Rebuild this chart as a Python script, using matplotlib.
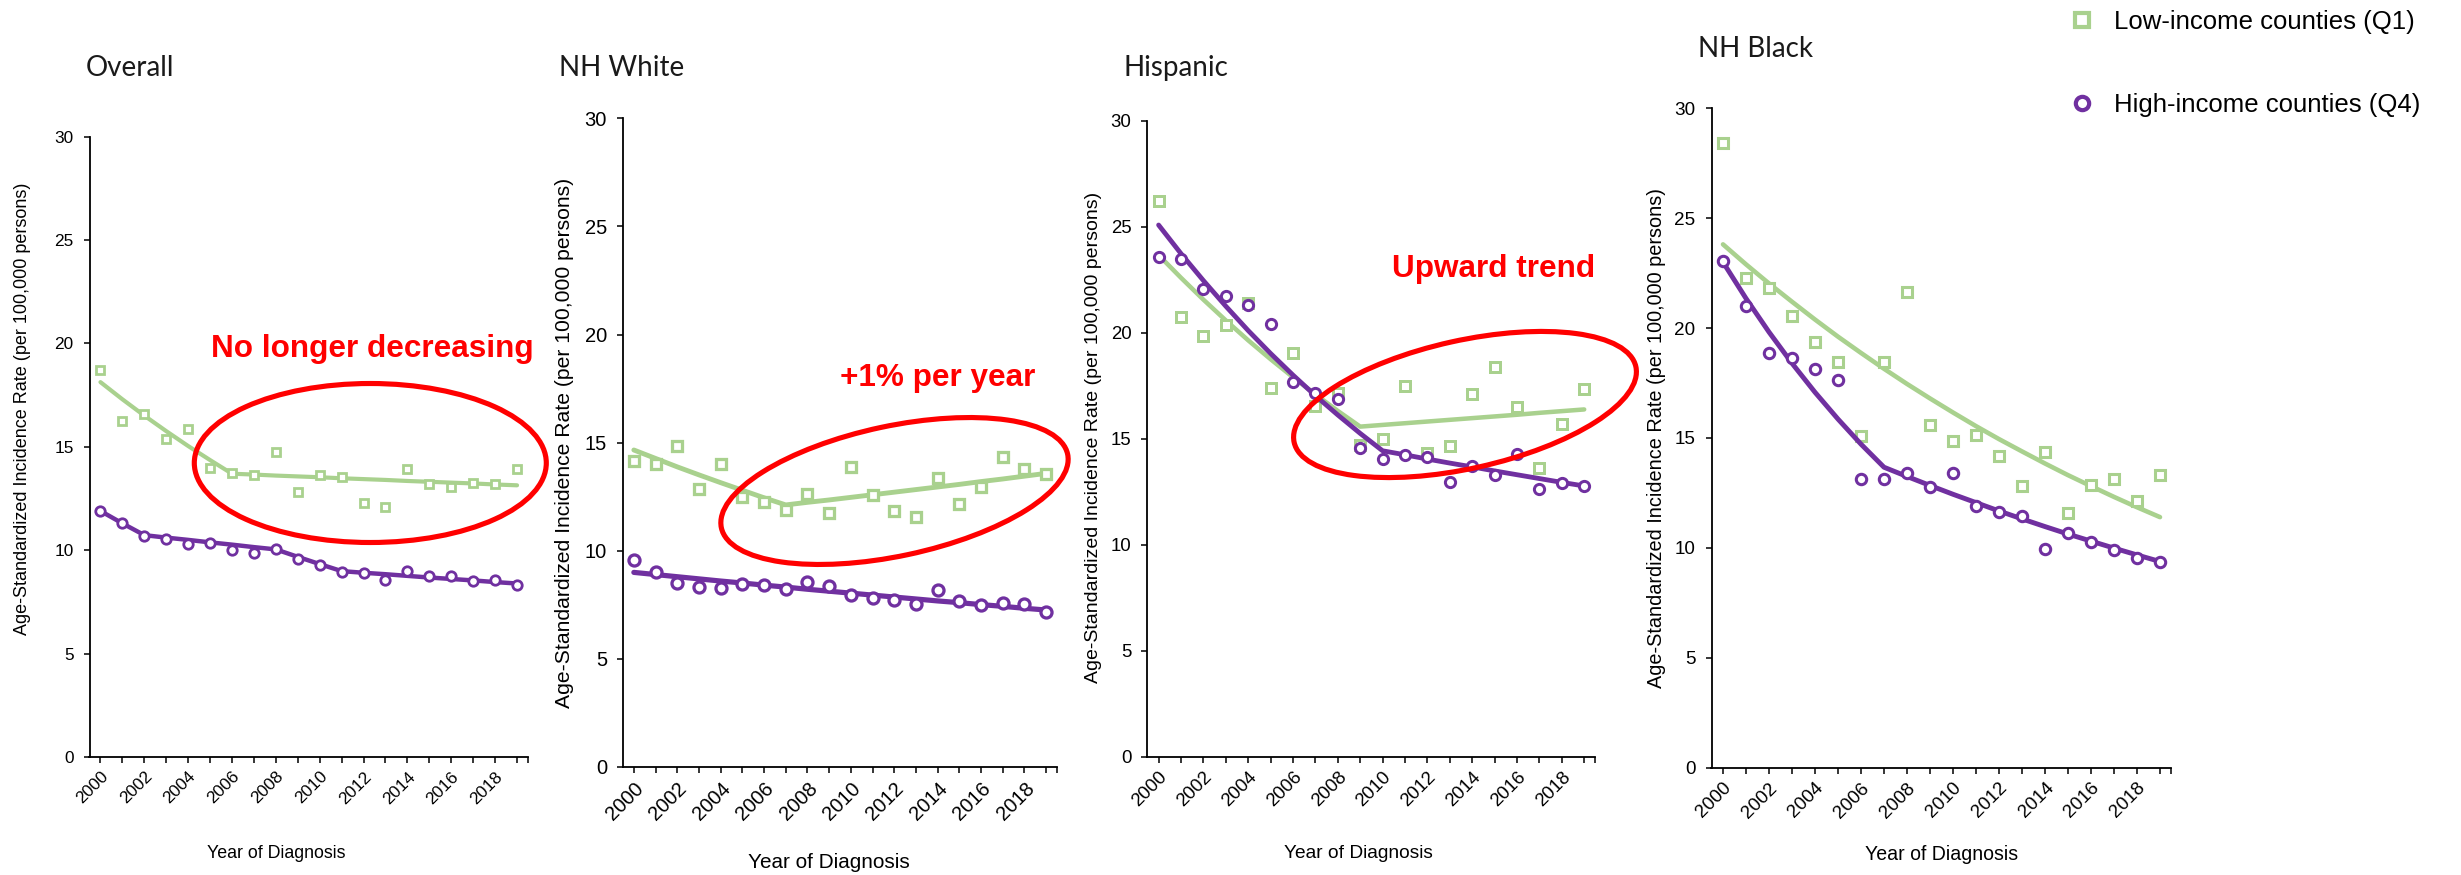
import matplotlib
matplotlib.use("Agg")
import matplotlib.pyplot as plt
from matplotlib.patches import Ellipse
from matplotlib.lines import Line2D
from matplotlib.transforms import Affine2D

# ---------------------------------------------------------------- data
years = list(range(2000, 2020))
year_labels = [str(y) if y % 2 == 0 else "" for y in years]
y_ticks = [0, 5, 10, 15, 20, 25, 30]

panel_titles = ["Overall", "NH White", "Hispanic", "NH Black"]
series_labels = ["Low-income counties (Q1)", "High-income counties (Q4)"]
y_label = "Age-Standardized Incidence Rate (per 100,000 persons)"
x_label = "Year of Diagnosis"

# observed age-standardized rates
overall_q1 = [18.73, 16.25, 16.57, 15.39, 15.88, 13.99, 13.75, 13.62, 14.75, 12.82,
              13.62, 13.54, 12.29, 12.09, 13.95, 13.19, 13.06, 13.27, 13.19, 13.91]
overall_q4 = [11.90, 11.34, 10.68, 10.52, 10.32, 10.35, 10.03, 9.89, 10.05, 9.60,
              9.31, 8.95, 8.92, 8.58, 8.99, 8.76, 8.76, 8.50, 8.55, 8.31]
white_q1 = [14.15, 14.01, 14.83, 12.86, 14.03, 12.47, 12.24, 11.89, 12.63, 11.73,
            13.89, 12.58, 11.84, 11.58, 13.35, 12.16, 12.97, 14.35, 13.78, 13.57]
white_q4 = [9.57, 9.03, 8.50, 8.34, 8.29, 8.45, 8.42, 8.22, 8.57, 8.37,
            7.96, 7.80, 7.72, 7.52, 8.19, 7.68, 7.48, 7.57, 7.52, 7.18]
hisp_q1 = [26.21, 20.72, 19.84, 20.36, 21.38, 17.37, 19.06, 16.54, 17.14, 14.70,
           14.98, 17.48, 14.34, 14.64, 17.12, 18.40, 16.51, 13.60, 15.68, 17.33]
hisp_q4 = [23.58, 23.46, 22.06, 21.73, 21.31, 20.42, 17.69, 17.14, 16.86, 14.54,
           14.03, 14.23, 14.15, 12.97, 13.71, 13.29, 14.28, 12.61, 12.89, 12.77]
black_q1 = [28.44, 22.29, 21.82, 20.53, 19.39, 18.47, 15.11, 18.45, 21.64, 15.57,
            14.88, 15.13, 14.20, 12.82, 14.35, 11.59, 12.86, 13.14, 12.12, 13.30]
black_q4 = [23.05, 20.99, 18.85, 18.63, 18.16, 17.66, 13.14, 13.14, 13.41, 12.77,
            13.41, 11.89, 11.63, 11.43, 9.96, 10.68, 10.28, 9.89, 9.54, 9.35]

# joinpoint-fitted trends
overall_q1_fit = [18.13, 17.30, 16.51, 15.76, 15.04, 14.36, 13.70, 13.66, 13.61, 13.57,
                  13.53, 13.48, 13.44, 13.40, 13.35, 13.31, 13.27, 13.23, 13.18, 13.14]
overall_q4_fit = [11.90, 11.30, 10.73, 10.61, 10.50, 10.38, 10.27, 10.15, 10.04, 9.68,
                  9.33, 8.99, 8.91, 8.84, 8.76, 8.68, 8.61, 8.54, 8.46, 8.39]
white_q1_fit = [14.66, 14.27, 13.88, 13.51, 13.15, 12.80, 12.45, 12.12, 12.24, 12.35,
                12.47, 12.59, 12.71, 12.83, 12.95, 13.07, 13.20, 13.32, 13.45, 13.58]
white_q4_fit = [9.00, 8.90, 8.80, 8.70, 8.60, 8.51, 8.41, 8.32, 8.22, 8.13,
                8.04, 7.95, 7.86, 7.77, 7.68, 7.60, 7.51, 7.43, 7.34, 7.26]
hisp_q1_fit = [23.66, 22.59, 21.56, 20.58, 19.64, 18.75, 17.90, 17.09, 16.31, 15.57,
               15.65, 15.73, 15.81, 15.89, 15.97, 16.05, 16.13, 16.22, 16.30, 16.38]
hisp_q4_fit = [25.08, 23.73, 22.46, 21.25, 20.10, 19.02, 18.00, 17.03, 16.12, 15.25,
               14.43, 14.24, 14.04, 13.85, 13.67, 13.48, 13.30, 13.12, 12.94, 12.77]
black_q1_fit = [23.81, 22.90, 22.03, 21.20, 20.39, 19.61, 18.87, 18.15, 17.46, 16.80,
                16.16, 15.54, 14.95, 14.39, 13.84, 13.31, 12.81, 12.32, 11.85, 11.40]
black_q4_fit = [23.00, 21.35, 19.82, 18.40, 17.08, 15.86, 14.72, 13.67, 13.25, 12.84,
                12.44, 12.06, 11.68, 11.32, 10.97, 10.63, 10.31, 9.99, 9.68, 9.38]

q1_series = [overall_q1, white_q1, hisp_q1, black_q1]
q4_series = [overall_q4, white_q4, hisp_q4, black_q4]
q1_fits = [overall_q1_fit, white_q1_fit, hisp_q1_fit, black_q1_fit]
q4_fits = [overall_q4_fit, white_q4_fit, hisp_q4_fit, black_q4_fit]

callouts = ["No longer decreasing", "+1% per year", "Upward trend"]

# ---------------------------------------------------------------- style
GREEN = "#A9D18E"
PURPLE = "#7030A0"
RED = "#FF0000"
W, H, DPI = 2461, 875, 100

plt.rcParams["font.family"] = ["Liberation Sans", "DejaVu Sans"]

fig = plt.figure(figsize=(W / DPI, H / DPI), dpi=DPI)
fig.patch.set_facecolor("white")
# pixel coordinates measured from the top-left corner of the canvas
pix = Affine2D().scale(1.0 / W, -1.0 / H).translate(0, 1) + fig.transFigure


def fx(x):
    return x / W


def fy(y):
    return 1 - y / H


# per-panel frame: left, right, top (y=30), bottom (y=0) in pixels, text scale
frames = [
    (89.5, 528.0, 136.7, 757.0, 1.00),
    (623.0, 1057.0, 118.3, 767.0, 1.17),
    (1147.4, 1595.4, 120.7, 756.7, 1.08),
    (1711.5, 2171.5, 108.3, 767.7, 1.10),
]
title_pos = [(86, 76), (559, 76), (1124, 76), (1698, 57)]
ylabel_pos = [(22.7, 409), (564, 442.5), (1094, 437), (1656, 438)]
xlabel_pos = [(276, 854), (829, 862), (1358.5, 854), (1941.5, 855)]

for i in range(4):
    left, right, top, bottom, s = frames[i]
    ax = fig.add_axes([fx(left), fy(bottom), (right - left) / W, (bottom - top) / H])
    ax.set_facecolor("none")

    ax.plot(years, q1_fits[i], color=GREEN, lw=3.0 * s, zorder=2,
            solid_capstyle="round")
    ax.plot(years, q1_series[i], ls="none", marker="s", ms=6.4 * s,
            mfc="white", mec=GREEN, mew=2.0 * s, zorder=3, clip_on=False)
    ax.plot(years, q4_fits[i], color=PURPLE, lw=3.2 * s, zorder=4,
            solid_capstyle="round")
    ax.plot(years, q4_series[i], ls="none", marker="o", ms=6.8 * s,
            mfc="white", mec=PURPLE, mew=2.0 * s, zorder=5, clip_on=False)

    ax.set_xlim(1999.5, 2019.5)
    ax.set_ylim(0, 30)
    for side in ("top", "right"):
        ax.spines[side].set_visible(False)
    for side in ("left", "bottom"):
        ax.spines[side].set_linewidth(1.3)
        ax.spines[side].set_color("black")

    ax.set_yticks(y_ticks)
    ax.set_xticks(years)
    ax.set_xticks([2019.5], minor=True)
    ax.set_xticklabels(year_labels, rotation=45, ha="right",
                       rotation_mode="anchor")
    ax.tick_params(axis="both", which="both", direction="out", length=4.5,
                   width=1.1, color="black", labelsize=12.4 * s)
    ax.tick_params(axis="x", pad=4)
    ax.tick_params(axis="y", pad=7)

    fig.text(fx(title_pos[i][0]), fy(title_pos[i][1]), panel_titles[i],
             fontfamily="Lato", fontweight="normal", fontsize=20,
             color="#1a1a1a", ha="left", va="baseline")
    fig.text(fx(ylabel_pos[i][0]), fy(ylabel_pos[i][1]), y_label,
             rotation=90, ha="center", va="center", fontsize=13.0 * s)
    fig.text(fx(xlabel_pos[i][0]), fy(xlabel_pos[i][1]), x_label,
             ha="center", va="center", fontsize=12.8 * s)

# highlight rings around the recent trend segments
rings = [
    ((370.3, 463.0), 352, 159, 0.0),
    ((894.5, 491.0), 354, 130, 12.0),
    ((1465.0, 404.5), 350, 128, 12.5),
]
for (cx, cy), w, h, ang in rings:
    fig.add_artist(Ellipse((cx, cy), w, h, angle=-ang, transform=pix,
                           fill=False, ec=RED, lw=3.7, zorder=10))

callout_pos = [(211.5, 357), (840, 386), (1392.5, 277)]
for text, (x, y) in zip(callouts, callout_pos):
    fig.text(fx(x), fy(y), text, color=RED, fontweight="bold",
             fontsize=22.7, ha="left", va="baseline")

handles = [
    Line2D([], [], ls="none", marker="s", ms=9.4, mfc="white", mec=GREEN, mew=3.0),
    Line2D([], [], ls="none", marker="o", ms=9.6, mfc="white", mec=PURPLE, mew=3.0),
]
fig.legend(handles, series_labels, loc="upper left",
           bbox_to_anchor=(fx(2069.5), fy(10)), frameon=False, fontsize=18.5,
           labelspacing=2.3, handlelength=1.0, handletextpad=0.74,
           borderpad=0, borderaxespad=0)

fig.savefig("out.png", dpi=DPI, facecolor="white")
